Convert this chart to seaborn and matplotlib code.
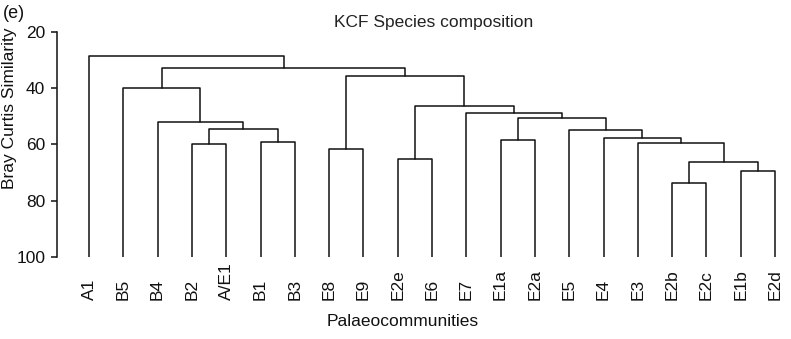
import matplotlib
matplotlib.use("Agg")
import matplotlib.pyplot as plt
import pandas as pd
import seaborn as sns

# Leaf order along the x axis
leaves = ["A1", "B5", "B4", "B2", "A/E1", "B1", "B3", "E8", "E9", "E2e", "E6",
          "E7", "E1a", "E2a", "E5", "E4", "E3", "E2b", "E2c", "E1b", "E2d"]

# Agglomeration steps: children ("#k" = result of step k) and the
# Bray-Curtis similarity (%) at which they join
merge_left = ["B2", "B1", "#0", "B4", "B5", "E8", "E2e", "E1a", "E2b", "E1b",
              "#8", "E3", "E4", "E5", "#7", "E7", "#6", "#5", "#4", "A1"]
merge_right = ["A/E1", "B3", "#1", "#2", "#3", "E9", "E6", "E2a", "E2c", "E2d",
               "#9", "#10", "#11", "#12", "#13", "#14", "#15", "#16", "#17", "#18"]
merge_height = [59.9, 59.0, 54.5, 52.1, 40.0, 61.7, 65.2, 58.4, 73.7, 69.4,
                66.3, 59.4, 57.8, 54.8, 50.7, 48.9, 46.3, 35.5, 32.6, 28.6]

y_ticks = [20, 40, 60, 80, 100]
leaf_base = 100

sns.set_theme(style="ticks")
plt.rcParams["font.family"] = ["Liberation Sans", "DejaVu Sans"]
ink = "#111111"

# Build the U-shaped links of the dendrogram as line segments
pos = {}
hgt = {}
for i, name in enumerate(leaves):
    pos[name] = float(i)
    hgt[name] = leaf_base

rows = []
seg = 0
for k, (a, b, h) in enumerate(zip(merge_left, merge_right, merge_height)):
    xa, xb = pos[a], pos[b]
    for x, y in [(xa, hgt[a]), (xa, h), (xb, h), (xb, hgt[b])]:
        rows.append({"x": x, "y": y, "seg": seg})
    seg += 1
    node = f"#{k}"
    pos[node] = (xa + xb) / 2
    hgt[node] = h
links = pd.DataFrame(rows)

fig = plt.figure(figsize=(7.91, 3.39), dpi=100)
ax = fig.add_axes([57 / 791, (339 - 256.7) / 339, (785 - 57) / 791, (256.7 - 32.3) / 339])

sns.lineplot(data=links, x="x", y="y", units="seg", estimator=None, sort=False,
             color=ink, linewidth=1.1, ax=ax, legend=False)

ax.set_ylim(100, 20)
ax.set_xlim(-(89 - 57) / 34.3, 20 + (785 - 775) / 34.3)
ax.set_yticks(y_ticks)
ax.set_yticklabels([str(t) for t in y_ticks])
ax.set_xticks(range(len(leaves)))
ax.set_xticklabels(leaves, rotation=90, va="bottom")
ax.set_xlabel("")
ax.set_ylabel("")

for side in ["top", "right", "bottom"]:
    ax.spines[side].set_visible(False)
ax.spines["left"].set_bounds(20, 100)
ax.spines["left"].set_linewidth(1.1)
ax.spines["left"].set_color(ink)
ax.tick_params(axis="y", length=4, width=1.1, pad=4.5, labelsize=12.5,
               colors=ink, direction="out")
ax.tick_params(axis="x", length=0, pad=31, labelsize=12.5, colors=ink)
ax.set_facecolor("white")
fig.patch.set_facecolor("white")

fig.text(434 / 791, 1 - 22 / 339, "KCF Species composition", ha="center",
         va="center", fontsize=12.5, color="#222222")
fig.text(3 / 791, 1 - 14 / 339, "(e)", ha="left", va="center",
         fontsize=13, color=ink)
fig.text(10 / 791, 1 - 108 / 339, "Bray Curtis Similarity", ha="center",
         va="center", rotation=90, fontsize=12.5, color=ink)
fig.text(403 / 791, 1 - 321.5 / 339, "Palaeocommunities", ha="center",
         va="center", fontsize=12.5, color=ink)

fig.savefig("out.png", dpi=100, facecolor="white")
